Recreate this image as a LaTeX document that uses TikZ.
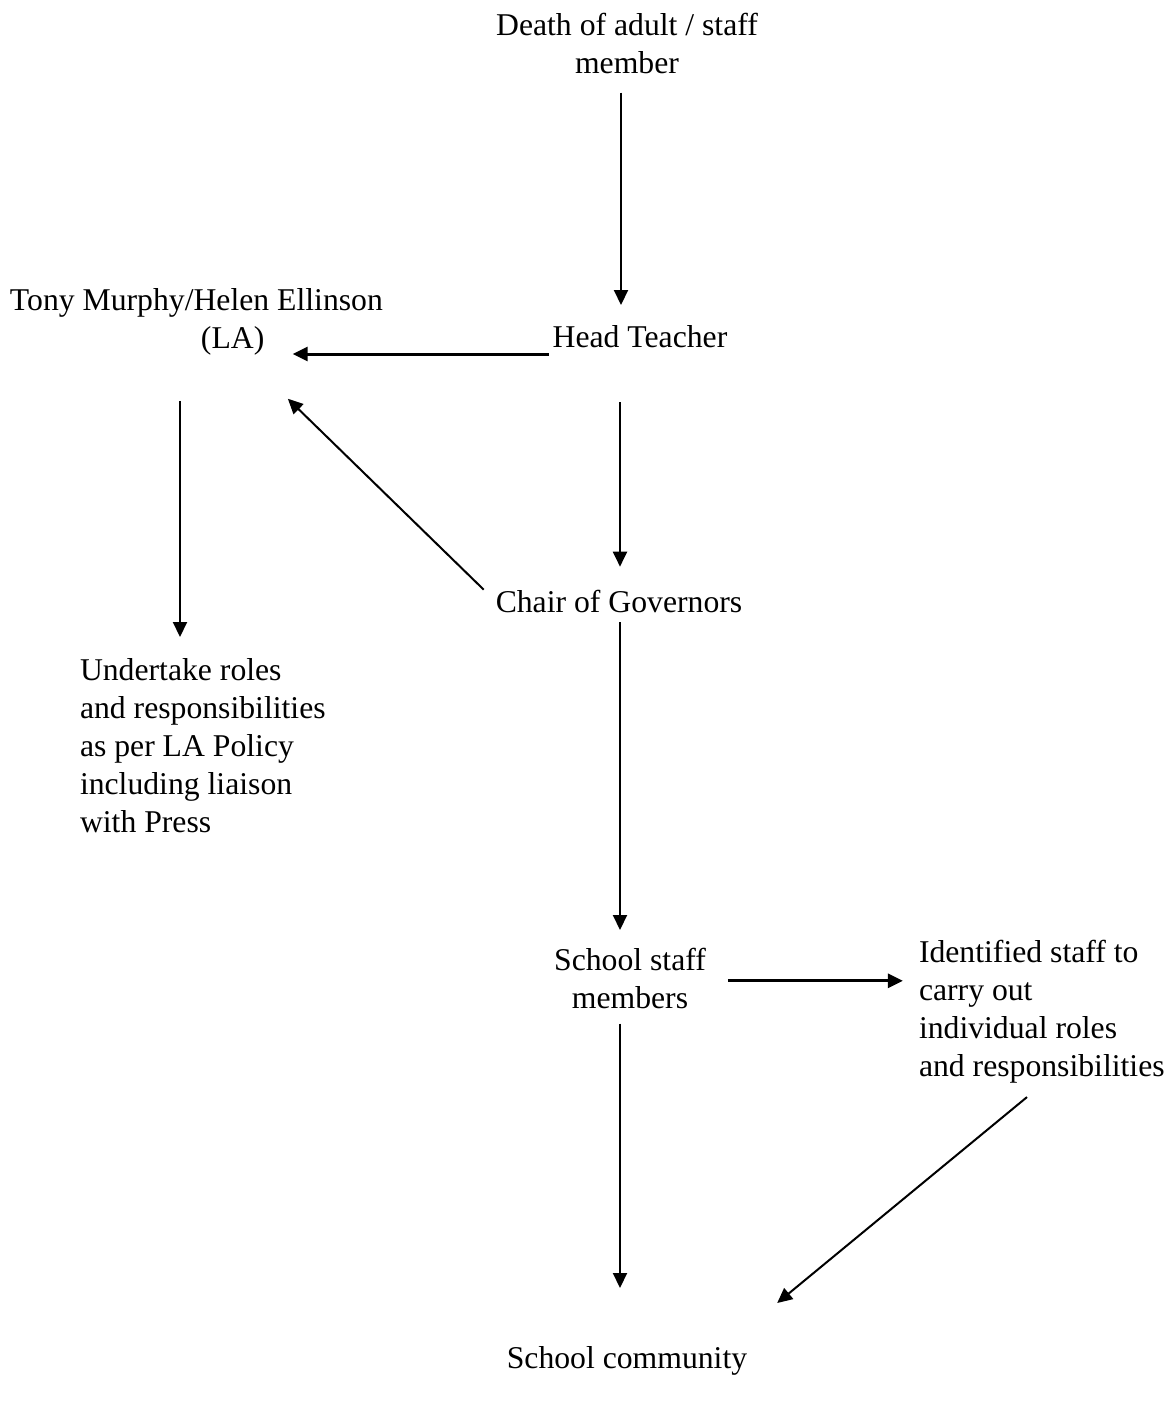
\documentclass[tikz,border=0pt]{standalone}
\usepackage{fontspec}
\setmainfont{Liberation Serif}
\usepackage{tikz}
\usetikzlibrary{arrows.meta, calc}

\begin{document}
\begin{tikzpicture}[x=0.5pt, y=-0.5pt]
      \tikzstyle{every node}+=[inner sep=0pt, outer sep=0pt, font=\fontsize{15.85pt}{19pt}\selectfont]
      \tikzstyle{arr}=[black, line width=1pt, -{Triangle[length=7.5pt, width=7pt]}]
      \useasboundingbox (0,0) rectangle (1174,1405);
      \node [align=center, anchor=north] (death) at (627,13) {Death of adult / staff\\member};
      \node [anchor=base] (head) at (640,347) {Head Teacher};
      \node [align=left, anchor=north west] (la) at (10,288) {Tony Murphy/Helen Ellinson\\\hspace*{95.5pt}(LA)};
      \node [align=left, anchor=north west] (und) at (80,658) {Undertake roles\\and responsibilities\\as per LA Policy\\including liaison\\with Press};
      \node [anchor=base] (chair) at (619,612) {Chair of Governors};
      \node [align=center, anchor=north] (staff) at (630,948) {School staff\\members};
      \node [align=left, anchor=north west] (ident) at (919,940) {Identified staff to\\carry out\\individual roles\\and responsibilities};
      \node [anchor=base] (comm) at (627,1368) {School community};
      \draw [arr] ($(death.south)+(-6,19)$) -- ($(head.north)+(-19,-20)$);
      \draw [arr, line width=1.5pt] ($(head.base west)+(-4,7)$) -- ++(-256,0);
      \draw [arr] ($(la.south west)+(170,46)$) -- ($(und.north west)+(100,-21)$);
      \draw [arr] ($(head.base)+(-20,55)$) -- ($(chair.north)+(1,-23)$);
      \draw [arr] ($(chair.north west)+(-12,0)$) -- ($(la.south east)+(-95,44)$);
      \draw [arr] ($(chair.base)+(1,10)$) -- ($(staff.north)+(-10,-18)$);
      \draw [arr, line width=1.5pt] ($(staff.east)+(22,2.5)$) -- ++(175,0);
      \draw [arr] ($(staff.south)+(-10,15)$) -- ($(comm.north)+(-7,-58)$);
      \draw [arr] ($(ident.south west)+(108,14)$) -- ($(comm.north east)+(30,-43)$);
\end{tikzpicture}
\end{document}
